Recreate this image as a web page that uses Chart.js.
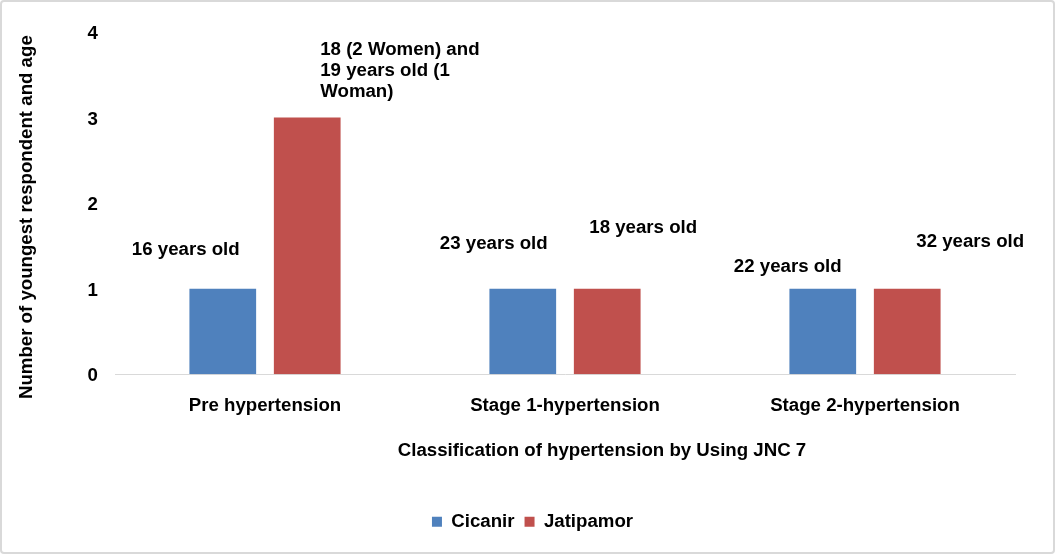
<!DOCTYPE html>
<html>
<head>
<meta charset="utf-8">
<script src="https://cdn.jsdelivr.net/npm/chart.js@4.4.1/dist/chart.umd.min.js"></script>
<style>
  html, body { margin: 0; padding: 0; background: #fff; }
  #wrap { position: relative; width: 1055px; height: 554px; }
  #frame { position: absolute; left: 0; top: 0; width: 1055px; height: 554px; box-sizing: border-box;
           border: 2px solid #d9d9d9; border-radius: 4px; pointer-events: none; }
  canvas { display: block; }
</style>
</head>
<body>
<div id="wrap">
  <canvas id="c" width="1055" height="554"></canvas>
  <div id="frame"></div>
</div>
<script>
// ---- data ----
const categories = ["Pre hypertension", "Stage 1-hypertension", "Stage 2-hypertension"];
const cicanirValues = [1, 1, 1];
const jatipamorValues = [3, 1, 1];
const cicanirLabels = ["16 years old", "23 years old", "22 years old"];
const jatipamorLabels = [["18 (2 Women) and", "19 years old (1", "Woman)"], "18 years old", "32 years old"];
const yTicks = [0, 1, 2, 3, 4];
const xTitle = "Classification of hypertension by Using JNC 7";
const yTitle = "Number of youngest respondent and age";

const FONT = "'Liberation Sans', Arial, sans-serif";
const FS = 18.67;

// label placement relative to bar top-center (pixels)
const labelPlacement = [
  [ {dx: -37, dy: -39, align: 'center'}, {dx: -29, dy: -45, align: 'center'}, {dx: -35, dy: -22, align: 'center'} ],
  [ {dx: 13, dy: -26, align: 'left'},    {dx: 36, dy: -61, align: 'center'}, {dx: 63, dy: -47, align: 'center'} ]
];
const labelTexts = [cicanirLabels, jatipamorLabels];

const barLabelPlugin = {
  id: 'barLabels',
  afterDatasetsDraw(chart) {
    const ctx = chart.ctx;
    ctx.save();
    ctx.font = 'bold ' + FS + 'px ' + FONT;
    ctx.fillStyle = '#000';
    ctx.textBaseline = 'middle';
    chart.data.datasets.forEach((ds, di) => {
      const meta = chart.getDatasetMeta(di);
      meta.data.forEach((el, i) => {
        const p = labelPlacement[di][i];
        const t = labelTexts[di][i];
        const lines = Array.isArray(t) ? t : [t];
        const lh = 21;
        ctx.textAlign = p.align;
        lines.forEach((ln, k) => {
          const y = el.y + p.dy - (lines.length - 1 - k) * lh;
          ctx.fillText(ln, el.x + p.dx, y);
        });
      });
    });
    ctx.restore();
  }
};

const axisTitlePlugin = {
  id: 'axisTitles',
  afterDraw(chart) {
    const ctx = chart.ctx;
    const a = chart.chartArea;
    ctx.save();
    ctx.font = 'bold ' + FS + 'px ' + FONT;
    ctx.fillStyle = '#000';
    ctx.textAlign = 'center';
    ctx.textBaseline = 'middle';
    // x title (offset right of plot center as in the original)
    ctx.fillText(xTitle, (a.left + a.right) / 2 + 37, a.bottom + 77);
    // y title
    ctx.translate(27, (a.top + a.bottom) / 2 + 14);
    ctx.rotate(-Math.PI / 2);
    ctx.fillText(yTitle, 0, 0);
    ctx.restore();
  }
};

new Chart(document.getElementById('c'), {
  type: 'bar',
  data: {
    labels: categories,
    datasets: [
      { label: 'Cicanir', data: cicanirValues, backgroundColor: '#4F81BD',
        categoryPercentage: 0.563, barPercentage: 0.79 },
      { label: 'Jatipamor', data: jatipamorValues, backgroundColor: '#C0504D',
        categoryPercentage: 0.563, barPercentage: 0.79 }
    ]
  },
  options: {
    responsive: false,
    animation: false,
    devicePixelRatio: 1,
    layout: { padding: { left: 50, right: 40, top: 32, bottom: 13 } },
    plugins: {
      tooltip: { enabled: false },
      legend: {
        position: 'bottom',
        labels: {
          boxWidth: 10, boxHeight: 10, padding: 10,
          color: '#000',
          font: { family: FONT, size: FS, weight: 'bold' }
        }
      }
    },
    scales: {
      x: {
        grid: { display: false, drawTicks: false },
        border: { display: true, color: '#d9d9d9', width: 1 },
        ticks: { color: '#000', padding: 20, font: { family: FONT, size: FS, weight: 'bold' } },
        afterFit(scale) { scale.height = 128; }
      },
      y: {
        min: 0, max: 4,
        afterBuildTicks(scale) { scale.ticks = yTicks.map(v => ({ value: v })); },
        grid: { display: false, drawTicks: false },
        border: { display: false },
        ticks: { color: '#000', padding: 17, labelOffset: 2, font: { family: FONT, size: FS, weight: 'bold' } },
        afterFit(scale) { scale.width = 65; }
      }
    }
  },
  plugins: [barLabelPlugin, axisTitlePlugin]
});
</script>
</body>
</html>
